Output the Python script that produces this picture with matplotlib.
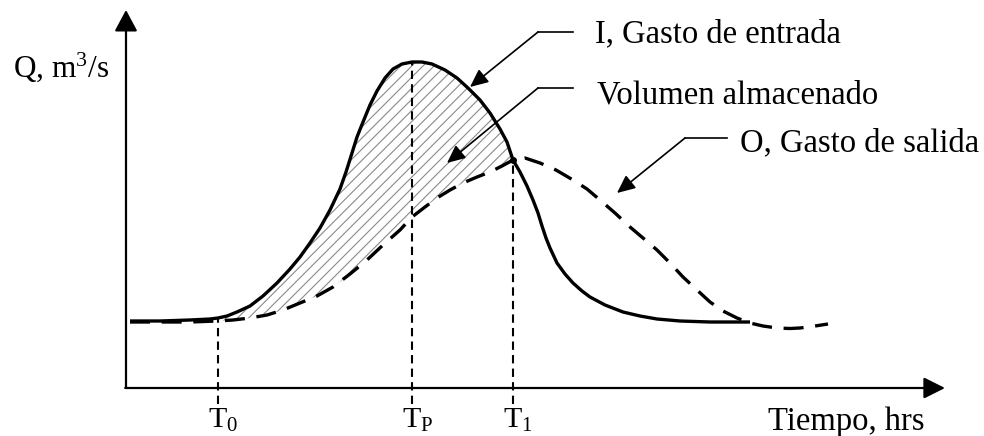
import numpy as np
import matplotlib
matplotlib.use("Agg")
import matplotlib.pyplot as plt

# hidrograma de entrada (I); tiempo en hrs, gasto en m3/s
t_in = [0.4, 3.4, 6.4, 8.4, 9.2, 10.1, 11.1, 12.4, 13.7, 15.1, 16.4, 17.4, 18.4, 19.4,
        20.4, 21.4, 22.0, 22.6, 23.1, 23.7, 24.4, 25.1, 25.9, 26.7, 27.6, 28.6, 29.6,
        30.6, 31.9, 33.1, 34.2, 35.4, 36.4, 37.4, 38.1, 38.7, 39.4, 40.1, 40.7, 41.2,
        41.6, 42.0, 42.4, 43.1, 43.9, 44.7, 45.6, 46.4, 47.9, 49.7, 51.4, 53.1, 55.4,
        58.4, 62.4]
q_in = [6.7, 6.7, 6.8, 6.9, 7.0, 7.2, 7.6, 8.2, 9.2, 10.5, 11.9, 13.1, 14.5, 16.0,
        17.8, 19.9, 21.6, 23.5, 25.1, 26.6, 28.3, 29.7, 31.0, 31.9, 32.4, 32.6, 32.6,
        32.4, 31.8, 31.0, 30.0, 28.8, 27.5, 25.9, 24.6, 22.8, 21.6, 20.2, 18.8, 17.5,
        16.2, 15.0, 14.0, 12.5, 11.4, 10.5, 9.7, 9.1, 8.3, 7.6, 7.2, 6.9, 6.7,
        6.6, 6.6]

# hidrograma de salida (O)
t_out = [0.4, 3.4, 6.4, 9.2, 10.7, 12.4, 14.1, 15.7, 17.4, 19.1, 20.7, 22.4, 24.1,
         25.7, 27.4, 28.6, 29.9, 31.1, 32.4, 33.7, 35.1, 36.4, 37.6, 38.7, 39.9, 41.4,
         43.0, 44.7, 46.1, 47.4, 48.9, 50.4, 51.7, 53.1, 54.4, 55.7, 57.1, 58.4, 59.7,
         61.1, 62.4, 63.7, 65.1, 66.4, 67.4, 68.9, 70.2]
q_out = [6.6, 6.6, 6.6, 6.7, 6.8, 7.0, 7.3, 7.8, 8.5, 9.2, 10.1, 11.4, 12.8,
         14.3, 15.8, 17.1, 18.1, 19.0, 19.8, 20.5, 21.1, 21.6, 22.2, 22.8, 23.0, 22.5,
         21.8, 20.8, 19.9, 18.8, 17.5, 16.1, 15.0, 13.8, 12.5, 11.1, 9.8, 8.6, 7.7,
         7.0, 6.5, 6.2, 6.0, 5.95, 6.0, 6.2, 6.4]

# tiempos caracteristicos
t_marks = [9.2, 28.6, 38.7]
t_labels = ["T$_0$", "T$_\\mathrm{P}$", "T$_1$"]

plt.rcParams["font.family"] = ["Liberation Serif", "DejaVu Serif"]
plt.rcParams["mathtext.fontset"] = "custom"
plt.rcParams["mathtext.rm"] = "Liberation Serif"
plt.rcParams["mathtext.it"] = "Liberation Serif:italic"
plt.rcParams["hatch.linewidth"] = 0.8

fig = plt.figure(figsize=(9.84, 4.36), dpi=100)
ax = fig.add_axes([0, 0, 1, 1])
ax.set_xlim(-12.6, 85.8)
ax.set_ylim(-4.8, 38.8)
ax.axis("off")

t_in = np.array(t_in)
q_in = np.array(q_in)
t_out = np.array(t_out)
q_out = np.array(q_out)

# volumen almacenado entre T0 y T1
t0, tp, t1 = t_marks
m_in = (t_in >= t0) & (t_in <= t1)
m_out = (t_out >= t0) & (t_out <= t1)
poly_t = np.concatenate([t_in[m_in], t_out[m_out][::-1]])
poly_q = np.concatenate([q_in[m_in], q_out[m_out][::-1]])
ax.fill(poly_t, poly_q, facecolor="none", edgecolor="#8a8a8a", hatch="///", lw=0)

ax.plot(t_in, q_in, color="black", lw=2.4, solid_capstyle="butt",
        solid_joinstyle="round", zorder=4)
ax.plot(t_out, q_out, color="black", lw=2.4, dashes=(6, 3.5), zorder=4)

# lineas verticales y etiquetas de tiempo
for t, lab in zip(t_marks, t_labels):
    q_top = np.interp(t, t_in, q_in)
    ax.plot([t, t], [-1.6, q_top], color="black", lw=1.5, dashes=(4, 2.5), zorder=3)
    ax.text(t - 1.0, -3.2, lab, ha="left", va="center", fontsize=21.5)
ax.plot([t1], [np.interp(t1, t_in, q_in)], "o", color="black", ms=4, zorder=5)

# ejes con flecha
ax.annotate("", xy=(0, 37.8), xytext=(0, 0),
            arrowprops=dict(arrowstyle="-|>,head_length=13,head_width=7", mutation_scale=1,
                            lw=1.6, color="black", shrinkA=0, shrinkB=0))
ax.annotate("", xy=(81.9, 0), xytext=(-0.08, 0),
            arrowprops=dict(arrowstyle="-|>,head_length=13,head_width=6.5", mutation_scale=1,
                            lw=1.6, color="black", shrinkA=0, shrinkB=0))
ax.text(-11.3, 32.1, "Q, m$^3$/s", ha="left", va="center", fontsize=22.5)
ax.text(64.2, -3.4, "Tiempo, hrs", ha="left", va="center", fontsize=23.5)

# leyendas con linea guia
notes = [
    ("I, Gasto de entrada", (46.9, 35.4), (44.7, 35.6), (41.2, 35.6), (34.4, 30.1)),
    ("Volumen almacenado", (47.1, 29.3), (44.7, 30.0), (41.2, 30.0), (32.1, 22.5)),
    ("O, Gasto de salida", (61.4, 24.5), (60.1, 25.0), (55.9, 25.0), (49.1, 19.5)),
]
for text, pos, p_end, p_knee, tip in notes:
    ax.text(pos[0], pos[1], text, ha="left", va="center", fontsize=23.5)
    ax.plot([p_end[0], p_knee[0]], [p_end[1], p_knee[1]], color="black", lw=1.2)
    ax.annotate("", xy=tip, xytext=p_knee,
                arrowprops=dict(arrowstyle="-|>,head_length=11,head_width=5", mutation_scale=1,
                                lw=1.2, color="black", shrinkA=0, shrinkB=0))

fig.savefig("out.png", dpi=100)
